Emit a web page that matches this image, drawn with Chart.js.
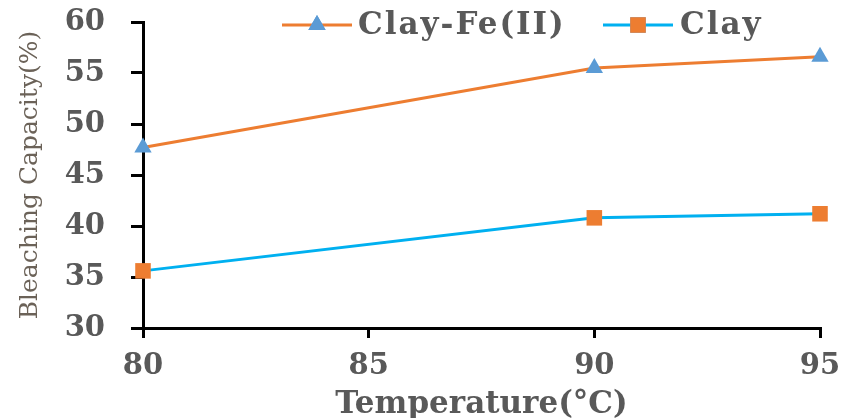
<!DOCTYPE html>
<html>
<head>
<meta charset="utf-8">
<script src="https://cdn.jsdelivr.net/npm/chart.js@4"></script>
<style>
  html, body { margin: 0; padding: 0; background: #fff; }
  #wrap { width: 843px; height: 418px; }
</style>
</head>
<body>
<div id="wrap"><canvas id="bleach"></canvas></div>
<script>
const temps = [80, 90, 95];
const clayFe = [47.7, 55.5, 56.6];
const clay = [35.6, 40.8, 41.2];
const seriesNames = ['Clay-Fe(II)', 'Clay'];

const toPoints = (xs, ys) => xs.map((x, i) => ({ x: x, y: ys[i] }));

const txt = '#595959';
const serifBold = { family: '"DejaVu Serif", serif', weight: 'bold', size: 29 };

// legend drawn on top of the plot like the original
const lineLegend = {
  id: 'lineLegend',
  afterDraw(chart) {
    const ctx = chart.ctx;
    const spots = [{ x: 282, w: 70, tx: 358 }, { x: 603, w: 70, tx: 680 }];
    chart.data.datasets.forEach((ds, i) => {
      const s = spots[i], y = 25;
      ctx.save();
      ctx.strokeStyle = ds.borderColor;
      ctx.lineWidth = 3;
      ctx.beginPath();
      ctx.moveTo(s.x, y);
      ctx.lineTo(s.x + s.w, y);
      ctx.stroke();
      Chart.helpers.drawPoint(ctx, {
        pointStyle: ds.pointStyle, radius: ds.pointRadius, rotation: 0,
        borderWidth: 0
      }, s.x + s.w / 2, y);
      ctx.fillStyle = ds.pointBackgroundColor;
      ctx.fill();
      ctx.fillStyle = txt;
      ctx.font = 'bold 31px "DejaVu Serif", serif';
      ctx.letterSpacing = '2px';
      ctx.textBaseline = 'middle';
      ctx.fillText(ds.label, s.tx, y + 1);
      ctx.restore();
    });
  }
};

// keep the plot box where the original has it
const noOverflow = s => { s.paddingTop = 0; s.paddingBottom = 0; s.paddingLeft = 0; s.paddingRight = 0; };

new Chart(document.getElementById('bleach'), {
  type: 'line',
  data: {
    datasets: [{
      label: seriesNames[0],
      data: toPoints(temps, clayFe),
      borderColor: '#ED7D31',
      borderWidth: 3,
      pointStyle: 'triangle',
      pointRadius: 10,
      pointBackgroundColor: '#5B9BD5',
      pointBorderWidth: 0,
      clip: false
    }, {
      label: seriesNames[1],
      data: toPoints(temps, clay),
      borderColor: '#00B0F0',
      borderWidth: 3,
      pointStyle: 'rect',
      pointRadius: 11,
      pointBackgroundColor: '#ED7D31',
      pointBorderWidth: 0,
      clip: false
    }]
  },
  options: {
    responsive: true,
    maintainAspectRatio: false,
    animation: false,
    layout: { padding: { top: 22, right: 23, left: 0, bottom: 0 } },
    plugins: { legend: { display: false }, tooltip: { enabled: false } },
    scales: {
      x: {
        type: 'linear',
        min: 80,
        max: 95,
        ticks: { stepSize: 5, color: txt, font: serifBold, padding: 11 },
        grid: { drawOnChartArea: false, color: '#000', lineWidth: 3, tickLength: 10 },
        border: { color: '#000', width: 3 },
        title: {
          display: true, text: 'Temperature(°C)', color: txt,
          font: { family: '"DejaVu Serif", serif', weight: 'bold', size: 31, lineHeight: 1 },
          padding: { top: 0, bottom: -2 }
        },
        afterFit(s) { s.height = 90; noOverflow(s); }
      },
      y: {
        min: 30,
        max: 60,
        ticks: { stepSize: 5, color: txt, font: serifBold, padding: 26 },
        grid: { drawOnChartArea: false, color: '#000', lineWidth: 3, tickLength: 12 },
        border: { color: '#000', width: 3 },
        title: {
          display: true, text: 'Bleaching Capacity(%)', color: '#6b6258',
          font: { family: '"DejaVu Serif", serif', size: 25, lineHeight: 1 },
          padding: { top: 18, bottom: 0 }
        },
        afterFit(s) { s.width = 143; noOverflow(s); }
      }
    }
  },
  plugins: [lineLegend]
});
</script>
</body>
</html>
